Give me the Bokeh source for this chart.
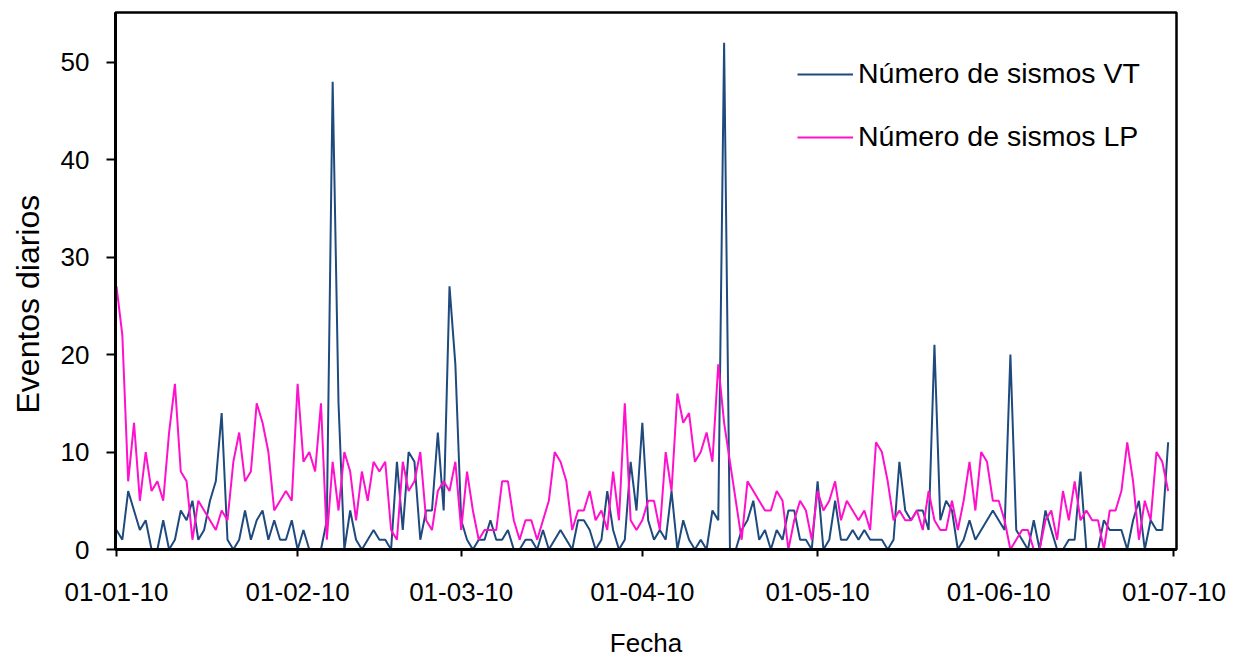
import pandas as pd
from bokeh.plotting import figure
from bokeh.models import Range1d, FixedTicker, DatetimeTickFormatter, Legend, LegendItem, Title
from bokeh.embed import file_html
from bokeh.resources import INLINE

# Daily counts, 1 Jan 2010 - 30 Jun 2010
fechas = pd.date_range("2010-01-01", "2010-06-30", freq="D")

sismos_vt = [
    2, 1, 6, 4, 2, 3, 0, 0, 3, 0, 1, 4, 3, 5, 1, 2, 5, 7, 14, 1, 0, 1, 4, 1,
    3, 4, 1, 3, 1, 1, 3, 0, 2, 0, 0, 0, 3, 48, 15, 0, 4, 1, 0, 1, 2, 1,
    1, 0, 9, 2, 10, 9, 1, 4, 4, 12, 4, 27, 19, 3, 1, 0, 1, 1, 3, 1, 1, 2,
    0, 0, 1, 1, 0, 2, 0, 1, 2, 1, 0, 3, 3, 2, 0, 1, 6, 2, 0, 1, 9, 4, 13,
    3, 1, 2, 1, 6, 0, 3, 1, 0, 1, 0, 4, 3, 52, 0, 0, 2, 3, 5, 1, 2, 0,
    2, 1, 4, 4, 1, 1, 0, 7, 0, 1, 5, 1, 1, 2, 1, 2, 1, 1, 1, 0, 1, 9,
    4, 3, 4, 4, 2, 21, 3, 5, 4, 0, 1, 3, 1, 2, 3, 4, 3, 2, 20, 2, 1, 0,
    3, 0, 4, 2, 0, 0, 1, 1, 8, 0, 0, 0, 3, 2, 2, 2, 0, 3, 5, 0, 3, 2, 2, 11,
]

sismos_lp = [
    27, 22, 7, 13, 5, 10, 6, 7, 5, 12, 17, 8, 7, 1, 5, 4, 3, 2, 4, 3, 9, 12, 7, 8,
    15, 13, 10, 4, 5, 6, 5, 17, 9, 10, 8, 15, 1, 9, 4, 10, 8, 3, 8, 5, 9, 8,
    9, 2, 1, 9, 6, 7, 10, 3, 2, 6, 7, 6, 9, 2, 8, 4, 1, 2, 2, 2, 7, 7,
    3, 1, 3, 3, 1, 3, 5, 10, 9, 7, 2, 4, 4, 6, 3, 4, 2, 8, 3, 15, 3, 2, 3,
    5, 5, 2, 10, 6, 16, 13, 14, 9, 10, 12, 9, 19, 13, 9, 5, 1, 7, 6, 5, 4, 4,
    6, 5, 0, 3, 5, 4, 1, 6, 4, 5, 7, 3, 5, 4, 3, 4, 2, 11, 10, 7, 3, 4,
    3, 3, 4, 2, 6, 3, 2, 2, 5, 2, 5, 9, 4, 10, 9, 5, 5, 3, 0, 1, 2, 2,
    0, 0, 3, 4, 1, 6, 3, 7, 3, 4, 3, 3, 0, 4, 4, 6, 11, 7, 1, 5, 3, 10, 9, 6,
]

tick_fechas = ["2010-01-01", "2010-02-01", "2010-03-01", "2010-04-01",
               "2010-05-01", "2010-06-01", "2010-07-01"]
y_ticks = [0, 10, 20, 30, 40, 50]

FONT = "Liberation Sans"
DAY_MS = 86400000.0

tick_ms = [pd.Timestamp(t).value / 1e6 for t in tick_fechas]
x_start = tick_ms[0] - 0.17 * DAY_MS
x_end = tick_ms[-1] + 0.43 * DAY_MS

p = figure(
    width=1243, height=660,
    x_axis_type="datetime",
    x_range=Range1d(x_start, x_end),
    y_range=Range1d(0, 55.1),
    output_backend="svg",
    toolbar_location=None,
    min_border_left=115, min_border_right=67,
    min_border_top=12, min_border_bottom=110,
)
p.background_fill_color = "white"
p.border_fill_color = "white"
p.outline_line_color = "black"
p.outline_line_width = 2.5
p.grid.visible = False

r_vt = p.line(fechas, sismos_vt, line_color="#1F4A7E", line_width=2)
r_lp = p.line(fechas, sismos_lp, line_color="#FF10CC", line_width=2)

# Axes
for ax in (p.xaxis[0], p.yaxis[0]):
    ax.axis_line_color = "black"
    ax.axis_line_width = 3
    ax.major_tick_line_color = "black"
    ax.major_tick_line_width = 2
    ax.minor_tick_line_color = None
    ax.major_tick_in = 0
    ax.major_label_text_font = FONT
    ax.major_label_text_font_size = "26px"
    ax.major_label_text_color = "black"
    ax.axis_label_text_font = FONT
    ax.axis_label_text_font_style = "normal"
    ax.axis_label_text_color = "black"

p.xaxis.ticker = FixedTicker(ticks=tick_ms)
fmt = "%d-%m-%y"
p.xaxis.formatter = DatetimeTickFormatter(days=fmt, months=fmt, years=fmt)
p.xaxis.major_tick_out = 7
p.xaxis.major_label_standoff = 26
p.xaxis.axis_label = "Fecha"
p.xaxis.axis_label_text_font_size = "26px"
p.xaxis.axis_label_standoff = 24

p.yaxis.ticker = FixedTicker(ticks=y_ticks)
p.yaxis.major_tick_out = 9
p.yaxis.major_label_standoff = 17

# Vertical axis title in its own side panel
p.add_layout(Title(
    text="Eventos diarios", align="left", offset=136,
    vertical_align="top", standoff=19,
    text_font=FONT, text_font_size="32px", text_font_style="normal",
    text_color="black",
), "left")

legend = Legend(
    items=[LegendItem(label="Número de sismos VT", renderers=[r_vt]),
           LegendItem(label="Número de sismos LP", renderers=[r_lp])],
    location=(682, 396),
    orientation="vertical",
    border_line_color=None,
    background_fill_alpha=0,
    padding=0, margin=0,
    glyph_width=56, glyph_height=30,
    label_height=30, label_standoff=5,
    spacing=30,
    label_text_font=FONT,
    label_text_font_size="28.5px",
    label_text_color="black",
)
p.add_layout(legend)

open("out.html", "w").write(file_html(p, INLINE))
